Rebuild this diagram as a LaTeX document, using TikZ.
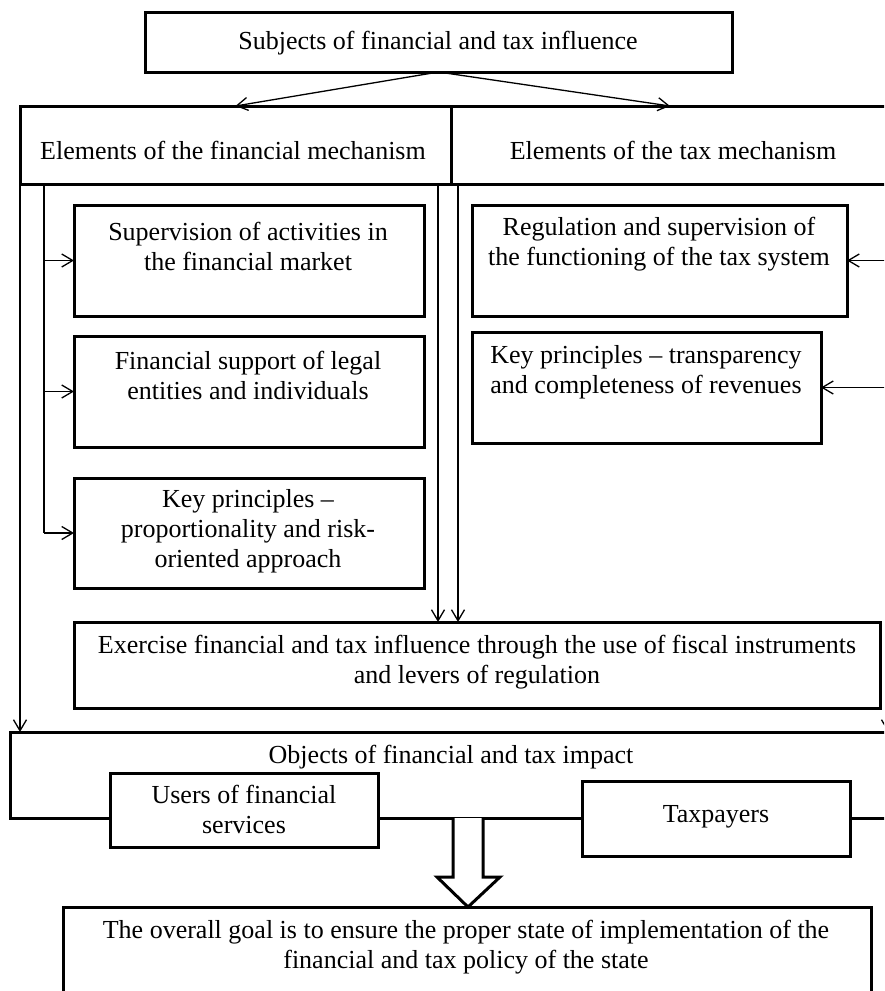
\documentclass[tikz,border=0pt]{standalone}
\usepackage{fontspec}
\setmainfont{Liberation Serif}
\usetikzlibrary{arrows.meta}
\tikzset{
  box/.style={draw, rectangle, line width=3pt, fill=white, inner sep=0pt, outer sep=0pt},
  txt/.style={align=center, font=\fontsize{26}{30}\selectfont, inner sep=0pt},
  conn/.style={line width=1.3pt},
  arr/.style={conn, -{Straight Barb[length=11pt,width=13pt,line width=1.3pt]}},
}
\begin{document}
\begin{tikzpicture}[x=1pt,y=-1pt]
\useasboundingbox (0,0) rectangle (884,991);
\clip (0,0) rectangle (884,991);
\fill[white] (0,0) rectangle (884,991);

% boxes
\node[box, minimum width=587pt, minimum height=60pt] (top) at (438.5,42) {};
\node[box, minimum width=431pt, minimum height=78pt] (fin) at (235.5,145) {};
\node[box, minimum width=549pt, minimum height=78pt] (tax) at (725.5,145) {};
\node[box, minimum width=350pt, minimum height=111pt] (s1) at (249,260.5) {};
\node[box, minimum width=350pt, minimum height=111pt] (s2) at (249,391.5) {};
\node[box, minimum width=350pt, minimum height=110pt] (s3) at (249,533) {};
\node[box, minimum width=375pt, minimum height=111pt] (r1) at (659.5,260.5) {};
\node[box, minimum width=349pt, minimum height=111pt] (r2) at (646.5,387.5) {};
\node[box, minimum width=806pt, minimum height=86pt] (ex) at (477,665) {};
\node[box, minimum width=990pt, minimum height=86pt] (obj) at (505,775) {};
\node[box, minimum width=268pt, minimum height=74pt] (users) at (244,810) {};
\node[box, minimum width=268pt, minimum height=75pt] (taxp) at (716,818.5) {};
\node[box, minimum width=808pt, minimum height=143pt] (goal) at (467,978.5) {};

% texts
\node[txt] (ttop) at (438,43) {Subjects of financial and tax influence};
\node[txt] (tfin) at (233,150) {Elements of the financial mechanism};
\node[txt] (ttax) at (673,150) {Elements of the tax mechanism};
\node[txt] (ts1) at (248,246) {Supervision of activities in\\the financial market};
\node[txt] (ts2) at (248,375) {Financial support of legal\\entities and individuals};
\node[txt] (ts3) at (248,531) {Key principles --\\proportionality and risk-\\oriented approach};
\node[txt] (tr1) at (659,244) {Regulation and supervision of\\the functioning of the tax system};
\node[txt] (tr2) at (646,372) {Key principles -- transparency\\and completeness of revenues};
\node[txt] (tex) at (477,662) {Exercise financial and tax influence through the use of fiscal instruments\\and levers of regulation};
\node[txt] (tobj) at (451,757) {Objects of financial and tax impact};
\node[txt] (tusers) at (244,809) {Users of financial\\services};
\node[txt] (ttaxp) at (716,817) {Taxpayers};
\node[txt] (tgoal) at (466,947) {The overall goal is to ensure the proper state of implementation of the\\financial and tax policy of the state};

% coordinates for connector ends
\coordinate (taxin) at (670,106);
\coordinate (trunk) at (44,184);
\coordinate (d1) at (438,184);
\coordinate (d2) at (458,184);
\coordinate (d3) at (888,184);
\coordinate (rr) at (920,0);

% connectors
\draw[arr] (top.south) -- (fin.north);
\draw[arr] (top.south) -- (taxin);
\draw[arr] (fin.south west) -- (fin.south west |- obj.north);
\draw[conn] (trunk) -- (trunk |- s3.west);
\draw[arr] (trunk |- s1.west) -- (s1.west);
\draw[arr] (trunk |- s2.west) -- (s2.west);
\draw[arr] (trunk |- s3.west) -- (s3.west);
\draw[arr] (d1) -- (d1 |- ex.north);
\draw[arr] (d2) -- (d2 |- ex.north);
\draw[arr] (rr |- r1.east) -- (r1.east);
\draw[arr] (rr |- r2.east) -- (r2.east);
\draw[arr] (d3) -- (d3 |- obj.north);

% hollow arrow
\draw[line width=3pt, line join=miter, fill=white]
  (453,818) -- (453,877) -- (437,877) -- (468,907) -- (500,877) -- (483,877) -- (483,818);
\end{tikzpicture}
\end{document}
